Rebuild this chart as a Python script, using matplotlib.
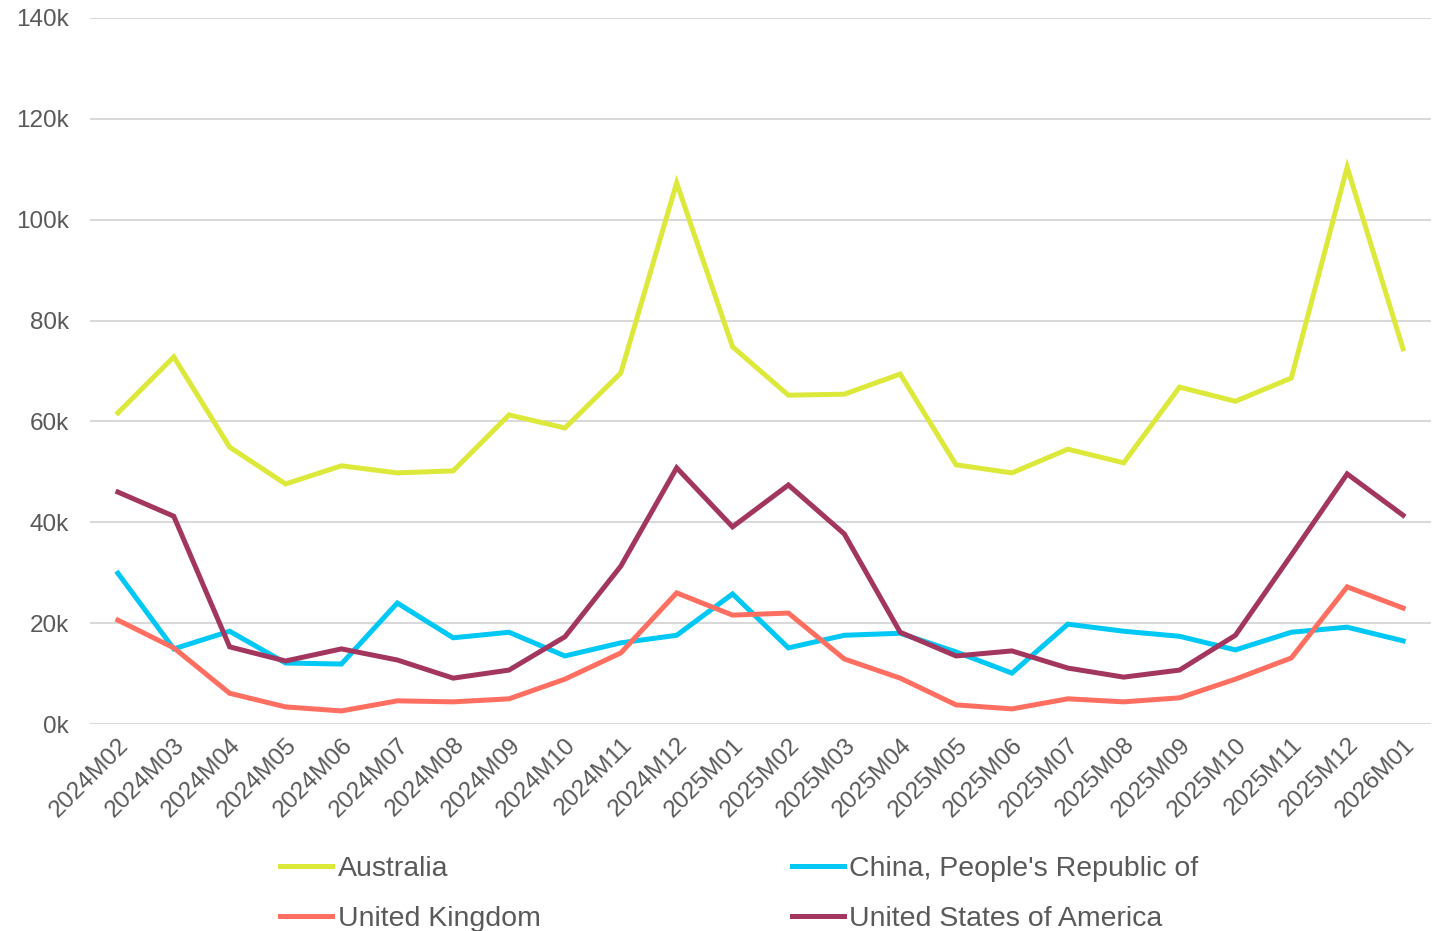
import matplotlib.pyplot as plt
from matplotlib.ticker import FuncFormatter

plt.rcParams['font.family'] = ['Liberation Sans', 'DejaVu Sans']

# --- data ---
months = ['2024M02', '2024M03', '2024M04', '2024M05', '2024M06', '2024M07',
          '2024M08', '2024M09', '2024M10', '2024M11', '2024M12', '2025M01',
          '2025M02', '2025M03', '2025M04', '2025M05', '2025M06', '2025M07',
          '2025M08', '2025M09', '2025M10', '2025M11', '2025M12', '2026M01']

australia = [61700, 72800, 54900, 47600, 51200, 49800, 50200, 61300, 58700, 69600,
             107300, 74800, 65200, 65400, 69400, 51400, 49800, 54500, 51800, 66800,
             64000, 68600, 110400, 74400]
china = [29900, 14900, 18400, 12100, 11900, 24000, 17100, 18200, 13500, 16100,
         17600, 25800, 15100, 17600, 18000, 14300, 10100, 19800, 18400, 17400,
         14700, 18200, 19200, 16500]
uk = [20600, 15100, 6100, 3400, 2600, 4600, 4400, 5000, 8900, 14100,
      26000, 21600, 22000, 12900, 9100, 3800, 3000, 5000, 4400, 5200,
      8900, 13100, 27200, 23000]
usa = [46000, 41200, 15300, 12500, 14900, 12700, 9100, 10700, 17300, 31300,
       50800, 39100, 47400, 37700, 18200, 13500, 14500, 11100, 9300, 10700,
       17600, 33500, 49600, 41400]

labels = ['Australia', "China, People's Republic of", 'United Kingdom', 'United States of America']
colors = ['#DDE93A', '#00C8F5', '#FF6F61', '#A3365F']

# --- figure ---
fig = plt.figure(figsize=(14.35, 9.31), dpi=100)
ax = fig.add_axes([0.0627, 0.2223, 0.9345, 0.7584])

x = range(len(months))
lines = {}
for name, vals, c in zip(labels, [australia, china, uk, usa], colors):
    lines[name], = ax.plot(x, vals, color=c, linewidth=3.6, solid_joinstyle='miter', label=name)

ax.set_xlim(-0.5, len(months) - 0.5)
ax.set_ylim(0, 140000)
ax.set_yticks(range(0, 140001, 20000))
ax.yaxis.set_major_formatter(FuncFormatter(lambda v, p: f'{int(v / 1000)}k'))
ax.set_xticks(list(x))
ax.set_xticklabels(months, rotation=45, ha='right', rotation_mode='anchor')

ax.tick_params(axis='both', length=0, labelsize=17.5, labelcolor='#595959')
ax.tick_params(axis='y', pad=15)
ax.tick_params(axis='x', pad=7)
ax.grid(axis='y', color='#d9d9d9', linewidth=1.5)
ax.set_axisbelow(True)
for s in ax.spines.values():
    s.set_visible(False)

# legend in two columns, filled column by column
order = ['Australia', 'United Kingdom', "China, People's Republic of", 'United States of America']
leg = fig.legend([lines[n] for n in order], order, loc='upper left',
                 bbox_to_anchor=(0.195, 0.0805), ncol=2, frameon=False,
                 fontsize=20.5, handlelength=1.85, handletextpad=0.18,
                 columnspacing=8.82, labelspacing=0.85, borderaxespad=0, borderpad=0)
for t in leg.get_texts():
    t.set_color('#595959')

fig.savefig('out.png', dpi=100)
